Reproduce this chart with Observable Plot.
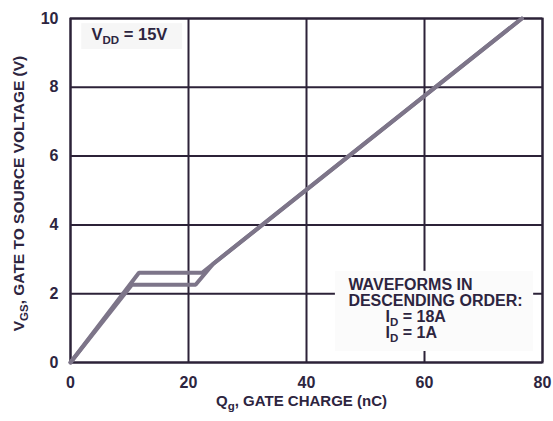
<!DOCTYPE html>
<html><head><meta charset="utf-8">
<script src="https://cdn.jsdelivr.net/npm/d3@7"></script>
<script src="https://cdn.jsdelivr.net/npm/@observablehq/plot@0.6"></script>
<style>html,body{margin:0;padding:0;background:#fff;}</style>
</head><body><div id="chart"></div>
<script>
// Gate charge curves (nC, V)
const q18 = [0, 11.6, 22.3, 76.5];
const v18 = [0, 2.61, 2.61, 10];
const q1 = [0, 10.4, 21.2, 24.2, 76.5];
const v1 = [0, 2.26, 2.26, 2.87, 10];
const seriesNames = ["ID = 18A", "ID = 1A"];
const xTicks = [0, 20, 40, 60, 80];
const yTicks = [0, 2, 4, 6, 8, 10];
const xTitle = "Q_{g}, GATE CHARGE (nC)";
const yTitle = "V_{GS}, GATE TO SOURCE VOLTAGE (V)";
const vddLabel = "V_{DD} = 15V";
const legendHeader = ["WAVEFORMS IN", "DESCENDING ORDER:"];
const legendItems = ["I_{D} = 18A", "I_{D} = 1A"];

const INK = "#2c2238";
const LINE = "#7d7589";

const rows = [
  ...q18.map((q, i) => ({q, v: v18[i], s: seriesNames[0]})),
  ...q1.map((q, i) => ({q, v: v1[i], s: seriesNames[1]}))
];

const chart = Plot.plot({
  width: 553, height: 421,
  marginLeft: 70, marginRight: 11, marginTop: 18, marginBottom: 59,
  x: {domain: [0, 80]},
  y: {domain: [0, 10]},
  style: {fontFamily: "'Liberation Sans', Arial, sans-serif", fontSize: "16px", fontWeight: "bold", color: "#2d2540", background: "#fff"},
  marks: [
    Plot.gridX(xTicks, {stroke: INK, strokeOpacity: 1, strokeWidth: 2}),
    Plot.gridY(yTicks, {stroke: INK, strokeOpacity: 1, strokeWidth: 2}),
    Plot.rect([0], {x1: 1.9, x2: 19, y1: 9.1, y2: 9.85, fill: "#f6f6f6"}),
    Plot.rect([0], {x1: 44.9, x2: 78.5, y1: 0.32, y2: 2.65, fill: "#fbfbfb"}),
    Plot.frame({stroke: INK, strokeWidth: 2}),
    Plot.line(rows, {x: "q", y: "v", z: "s", stroke: LINE, strokeWidth: 4, strokeLinejoin: "miter"}),
    Plot.axisX(xTicks, {tickSize: 0, tickPadding: 14, label: null, fontSize: 16, fontWeight: "bold"}),
    Plot.axisY(yTicks, {tickSize: 0, tickPadding: 12, label: null, fontSize: 16, fontWeight: "bold"}),
    Plot.text([xTitle], {frameAnchor: "bottom", dy: 43, dx: -5, fontSize: 15, fontWeight: "bold"}),
    Plot.text([yTitle], {frameAnchor: "left", textAnchor: "middle", rotate: -90, dx: -51, dy: 3, fontSize: 15.5, fontWeight: "bold"}),
    Plot.text([vddLabel], {x: 3.56, y: 9.72, textAnchor: "start", lineAnchor: "top", fontSize: 16.5, fontWeight: "bold"}),
    Plot.text([legendHeader.join("\n")], {x: 47.1, y: 2.43, textAnchor: "start", lineAnchor: "top", lineHeight: 1.0, fontSize: 16, fontWeight: "bold"}),
    Plot.text([legendItems.join("\n")], {x: 53.4, y: 1.50, textAnchor: "start", lineAnchor: "top", lineHeight: 1.0, fontSize: 16, fontWeight: "bold"})
  ]
});

// Render "_{...}" as real subscript tspans
const NS = "http://www.w3.org/2000/svg";
function applySub(el) {
  const s = el.textContent;
  if (!s.includes("_{")) return;
  while (el.firstChild) el.removeChild(el.firstChild);
  let shifted = false;
  for (const p of s.split(/(_\{[^}]*\})/)) {
    if (!p) continue;
    const t = document.createElementNS(NS, "tspan");
    if (p.startsWith("_{")) {
      t.textContent = p.slice(2, -1);
      t.setAttribute("font-size", "11.5");
      t.setAttribute("dy", "4");
      shifted = true;
    } else {
      t.textContent = p;
      if (shifted) { t.setAttribute("dy", "-4"); shifted = false; }
    }
    el.appendChild(t);
  }
}
const leaves = Array.from(chart.querySelectorAll("text, tspan")).filter(e => e.children.length === 0);
leaves.forEach(applySub);

document.getElementById("chart").appendChild(chart);
</script>
</body></html>
